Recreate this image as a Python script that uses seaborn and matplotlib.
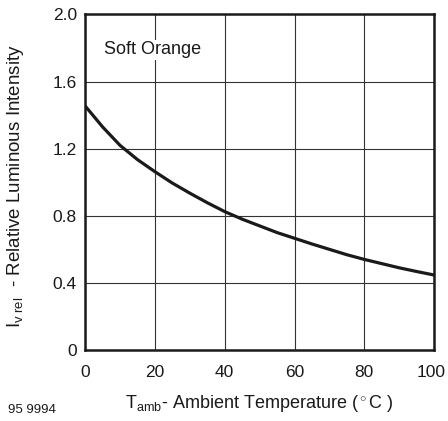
import matplotlib
matplotlib.use('Agg')
import matplotlib.pyplot as plt
import matplotlib.transforms as mtransforms
import seaborn as sns
import pandas as pd

# values
temp = [0, 5, 10, 15, 20, 25, 30, 35, 40, 45, 50, 55, 60, 65, 70, 75, 80, 85, 90, 95, 100]
iv_rel = [1.455, 1.33, 1.22, 1.135, 1.063, 0.995, 0.935, 0.878, 0.825, 0.78, 0.74, 0.70, 0.666, 0.632, 0.60, 0.568, 0.54, 0.515, 0.49, 0.468, 0.447]
xticks = [0, 20, 40, 60, 80, 100]
yticks = [0, 0.4, 0.8, 1.2, 1.6, 2.0]
yticklabels = ['0', '0.4', '0.8', '1.2', '1.6', '2.0']

df = pd.DataFrame({'temp': temp, 'iv': iv_rel})

sns.set_style('white')
plt.rcParams['font.family'] = ['Liberation Sans', 'DejaVu Sans']
plt.rcParams['mathtext.fontset'] = 'custom'
plt.rcParams['mathtext.rm'] = 'Liberation Sans'
plt.rcParams['mathtext.it'] = 'Liberation Sans'

fig = plt.figure(figsize=(4.48, 4.21), dpi=100)
ax = fig.add_axes([0.19, 0.1686, 0.779, 0.797])

sns.lineplot(data=df, x='temp', y='iv', ax=ax, color='#1a1a1a', linewidth=2.3)

ax.set_xlim(0, 100)
ax.set_ylim(0, 2.0)
ax.set_xticks(xticks)
ax.set_yticks(yticks)
ax.set_yticklabels(yticklabels)
ax.grid(True, color='#333333', linewidth=0.8)
ax.tick_params(axis='x', length=0, pad=11, labelsize=12.5, colors='#1a1a1a')
ax.tick_params(axis='y', length=0, pad=6, labelsize=12.5, colors='#1a1a1a')
for s in ax.spines.values():
    s.set_linewidth(1.8)
    s.set_color('#1a1a1a')

# nudge the last x label so it stays inside the figure
lbl = ax.get_xticklabels()[-1]
lbl.set_transform(lbl.get_transform() + mtransforms.ScaledTranslation(-2 / 72, 0, fig.dpi_scale_trans))

ax.set_xlabel(r'T$_{\rm amb}$- Ambient Temperature ($^\circ$C )', fontsize=13, labelpad=9, color='#1a1a1a')
ax.set_ylabel(r'I$_{\rm v\ rel}$  - Relative Luminous Intensity', fontsize=13.5, color='#1a1a1a')
ax.yaxis.set_label_coords(-0.168, 0.49)

ax.text(5.5, 1.79, 'Soft Orange', fontsize=13, va='center', color='#1a1a1a',
        bbox=dict(facecolor='white', edgecolor='none', pad=1))
fig.text(0.018, 0.018, '95 9994', fontsize=9.5, color='#1a1a1a')

fig.savefig('out.png', dpi=100)
